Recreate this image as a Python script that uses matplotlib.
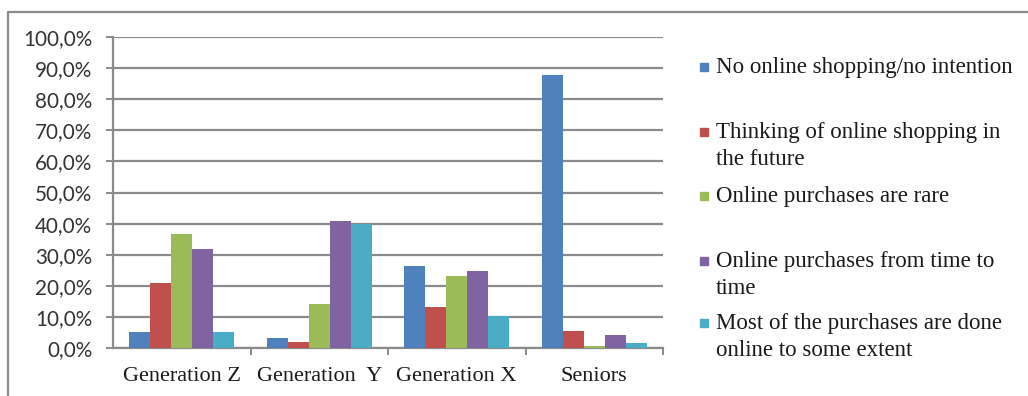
import matplotlib
matplotlib.use("Agg")
import matplotlib.pyplot as plt
from matplotlib.patches import Rectangle
from matplotlib.lines import Line2D
import numpy as np

categories = ["Generation Z", "Generation  Y", "Generation X", "Seniors"]
series_labels = [
    "No online shopping/no intention",
    "Thinking of online shopping in\nthe future",
    "Online purchases are rare",
    "Online purchases from time to\ntime",
    "Most of the purchases are done\nonline to some extent",
]
values = [
    [5.1, 3.1, 26.4, 87.8],
    [21.0, 2.0, 13.3, 5.5],
    [36.5, 14.0, 23.2, 0.7],
    [31.7, 40.8, 24.9, 4.1],
    [5.1, 39.9, 10.3, 1.5],
]
colors = ["#4F81BD", "#C0504D", "#9BBB59", "#8064A2", "#4BACC6"]
y_ticks = [0, 10, 20, 30, 40, 50, 60, 70, 80, 90, 100]
y_tick_labels = [f"{t},0%" for t in y_ticks]

W, H = 1028, 396
fig = plt.figure(figsize=(W / 100, H / 100), dpi=100)
fig.patch.set_facecolor("white")

# outer frame
frame = Line2D([8 / W, 8 / W, 1027 / W], [0, 1 - 12 / H, 1 - 12 / H],
               transform=fig.transFigure, color="#8c8c8c", lw=1.6)
fig.lines.append(frame)

ax = fig.add_axes([113 / W, 1 - 348 / H, (663 - 113) / W, (348 - 37) / H])
grid_c = "#8a8a8a"
text_c = "#1a1a1a"
x = np.arange(len(categories))
bw = 0.153
for i, (vals, c) in enumerate(zip(values, colors)):
    ax.bar(x + (i - 2) * bw, vals, width=bw, color=c, zorder=3, linewidth=0)

ax.set_xlim(-0.5, len(categories) - 0.5)
ax.set_ylim(0, 100)
ax.set_yticks(y_ticks)
ax.set_yticklabels(y_tick_labels, fontfamily="Lato", fontsize=14.9, color="#333333")
ax.yaxis.grid(True, color=grid_c, lw=1.6, zorder=0)
ax.set_axisbelow(True)

# category labels centred, tick marks between categories
ax.set_xticks(x)
ax.set_xticklabels(categories, fontfamily="Liberation Serif", fontsize=16, color=text_c)
ax.tick_params(axis="x", length=0, pad=14)
ax.set_xticks(np.arange(len(categories)) + 0.5, minor=True)
ax.tick_params(axis="x", which="minor", length=5, width=1.4, color=grid_c, direction="out")
ax.tick_params(axis="y", length=5, width=1.4, color=grid_c, pad=10)

for s in ["top", "right"]:
    ax.spines[s].set_visible(False)
for s in ["left", "bottom"]:
    ax.spines[s].set_color(grid_c)
    ax.spines[s].set_linewidth(1.6)

# legend laid out to the right of the plot: marker plus one baseline per text line
legend_base = [73, 138, 202, 267, 329]
line_gap = 27
for lab, c, yb in zip(series_labels, colors, legend_base):
    fig.patches.append(Rectangle((700 / W, 1 - (yb - 2) / H), 8 / W, 8 / H,
                                 transform=fig.transFigure, color=c))
    for k, part in enumerate(lab.split("\n")):
        fig.text(716 / W, 1 - (yb + k * line_gap) / H, part, ha="left", va="baseline",
                 fontfamily="Liberation Serif", fontsize=16.5, color=text_c)

fig.savefig("out.png", dpi=100)
